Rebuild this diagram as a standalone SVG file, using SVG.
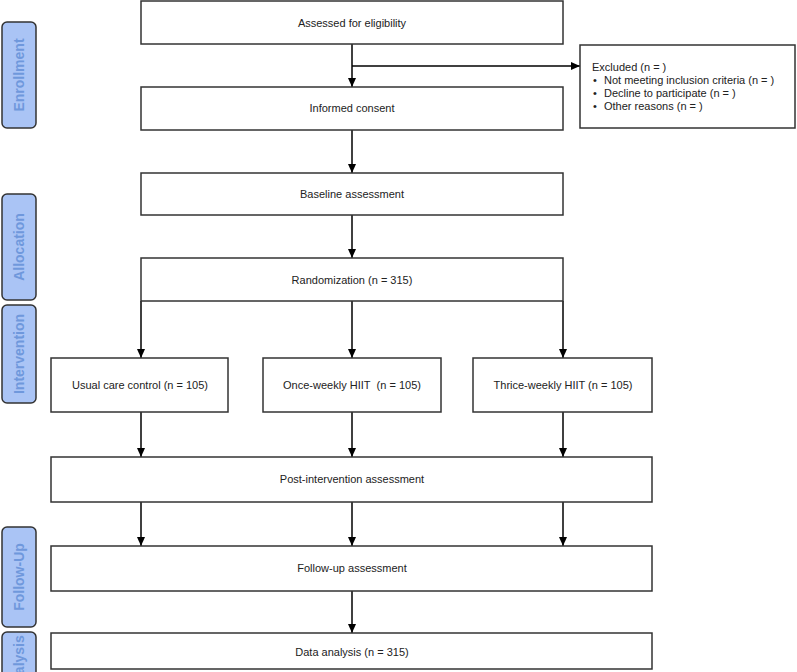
<svg xmlns="http://www.w3.org/2000/svg" width="797" height="672" viewBox="0 0 797 672">
<style>
.box{fill:#fff;stroke:#333;stroke-width:1.5}
.stage{fill:#aac4f5;stroke:#333;stroke-width:1.5}
.t{font-family:"Liberation Sans",Arial,sans-serif;font-size:11px;fill:#222;text-anchor:middle;dominant-baseline:central}
.tl{font-family:"Liberation Sans",Arial,sans-serif;font-size:11px;fill:#222}
.st{font-family:"Liberation Sans",Arial,sans-serif;font-size:14px;font-weight:bold;fill:#6f98dc;text-anchor:middle;dominant-baseline:central}
.c{stroke:#000;stroke-width:1.5;fill:none}
</style>
<defs>
<marker id="ah" markerWidth="10" markerHeight="10" refX="9" refY="5" orient="auto" markerUnits="userSpaceOnUse">
<path d="M0,1 L9,5 L0,9 z" fill="#000"/>
</marker>
</defs>
<g id="stages">
<g id="stage-enrollment"><rect class="stage" x="2" y="22" width="34" height="106" rx="5"/><text class="st" transform="translate(19,75) rotate(-90)">Enrollment</text></g>
<g id="stage-allocation"><rect class="stage" x="2" y="194" width="34" height="106" rx="5"/><text class="st" transform="translate(19,247) rotate(-90)">Allocation</text></g>
<g id="stage-intervention"><rect class="stage" x="2" y="305" width="34" height="98" rx="5"/><text class="st" transform="translate(19,354) rotate(-90)">Intervention</text></g>
<g id="stage-followup"><rect class="stage" x="2" y="527" width="34" height="100" rx="5"/><text class="st" transform="translate(19,577) rotate(-90)">Follow-Up</text></g>
<g id="stage-analysis"><rect class="stage" x="2" y="632" width="34" height="80" rx="5"/><text class="st" transform="translate(19,664) rotate(-90)">Analysis</text></g>
</g>
<g id="connectors">
<line class="c" x1="352" y1="44" x2="352" y2="87" marker-end="url(#ah)"/>
<line class="c" x1="352" y1="66" x2="580" y2="66" marker-end="url(#ah)"/>
<line class="c" x1="352" y1="130" x2="352" y2="173" marker-end="url(#ah)"/>
<line class="c" x1="352" y1="215" x2="352" y2="258" marker-end="url(#ah)"/>
<line class="c" x1="141" y1="301" x2="141" y2="358" marker-end="url(#ah)"/>
<line class="c" x1="352" y1="301" x2="352" y2="358" marker-end="url(#ah)"/>
<line class="c" x1="563" y1="301" x2="563" y2="358" marker-end="url(#ah)"/>
<line class="c" x1="141" y1="412" x2="141" y2="457" marker-end="url(#ah)"/>
<line class="c" x1="352" y1="412" x2="352" y2="457" marker-end="url(#ah)"/>
<line class="c" x1="563" y1="412" x2="563" y2="457" marker-end="url(#ah)"/>
<line class="c" x1="141" y1="502" x2="141" y2="546" marker-end="url(#ah)"/>
<line class="c" x1="352" y1="502" x2="352" y2="546" marker-end="url(#ah)"/>
<line class="c" x1="563" y1="502" x2="563" y2="546" marker-end="url(#ah)"/>
<line class="c" x1="352" y1="591" x2="352" y2="633" marker-end="url(#ah)"/>
</g>
<g id="assessed"><rect class="box" x="141" y="1" width="422" height="43"/><text class="t" x="352" y="23">Assessed for eligibility</text></g>
<g id="excluded"><rect class="box" x="580" y="45" width="215" height="83"/>
<text class="tl" x="592" y="71">Excluded (n = )</text>
<text class="tl" x="593" y="84">•</text><text class="tl" x="604" y="84">Not meeting inclusion criteria (n = )</text>
<text class="tl" x="593" y="97">•</text><text class="tl" x="604" y="97">Decline to participate (n = )</text>
<text class="tl" x="593" y="110">•</text><text class="tl" x="604" y="110">Other reasons (n = )</text>
</g>
<g id="consent"><rect class="box" x="141" y="87" width="422" height="43"/><text class="t" x="352" y="108">Informed consent</text></g>
<g id="baseline"><rect class="box" x="141" y="173" width="422" height="42"/><text class="t" x="352" y="194">Baseline assessment</text></g>
<g id="randomization"><rect class="box" x="141" y="258" width="422" height="43"/><text class="t" x="352" y="280">Randomization (n = 315)</text></g>
<g id="usual"><rect class="box" x="51" y="358" width="177" height="54"/><text class="t" x="140" y="385">Usual care control (n = 105)</text></g>
<g id="once"><rect class="box" x="263" y="358" width="178" height="54"/><text class="t" x="352" y="385">Once-weekly HIIT&#160; (n = 105)</text></g>
<g id="thrice"><rect class="box" x="473" y="358" width="179" height="54"/><text class="t" x="563" y="385">Thrice-weekly HIIT (n = 105)</text></g>
<g id="post"><rect class="box" x="51" y="457" width="601" height="45"/><text class="t" x="352" y="479">Post-intervention assessment</text></g>
<g id="followup"><rect class="box" x="51" y="546" width="601" height="45"/><text class="t" x="352" y="568">Follow-up assessment</text></g>
<g id="analysis"><rect class="box" x="51" y="633" width="601" height="36"/><text class="t" x="352" y="652">Data analysis (n = 315)</text></g>
</svg>
